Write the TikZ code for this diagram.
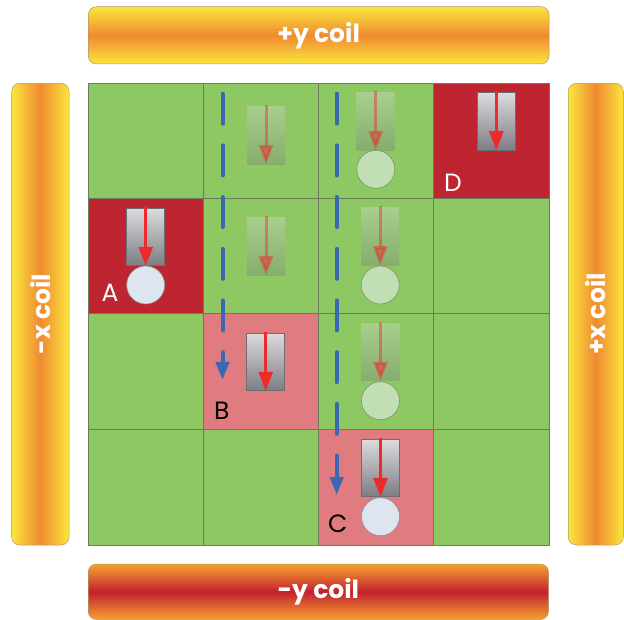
\documentclass[tikz,border=0pt]{standalone}
\usepackage{fontspec}
\newfontfamily\coilfont{Poppins}
\usetikzlibrary{arrows.meta}
\definecolor{grn}{HTML}{8DC862}
\definecolor{dred}{HTML}{BE2530}
\definecolor{pnk}{HTML}{E07C80}
\definecolor{gridc}{HTML}{6A7C5E}
\definecolor{mgtop}{HTML}{DCDCDE}
\definecolor{mgbot}{HTML}{7C7C84}
\definecolor{mgedge}{HTML}{6E6E72}
\definecolor{redarr}{HTML}{EE2A2A}
\definecolor{ballc}{HTML}{DDE5EE}
\definecolor{balledge}{HTML}{8A9098}
\definecolor{gballc}{HTML}{C2DEB4}
\definecolor{gballedge}{HTML}{76966A}
\definecolor{bluec}{HTML}{3A68B2}
\definecolor{cyel}{HTML}{FBE63C}
\definecolor{corg}{HTML}{F08A32}
\definecolor{dorg}{HTML}{F6A22E}
\definecolor{dcred}{HTML}{C2212F}
\definecolor{coiledge}{HTML}{B09A70}
\tikzset{
  gridline/.style={draw=gridc, line width=0.8pt},
  magbox/.style={top color=mgtop, bottom color=mgbot, draw=mgedge, line width=0.7pt},
  ghostbox/.style={top color=mgtop, bottom color=mgbot, opacity=0.35},
  redarrow/.style={draw=redarr, line width=3pt, -{Triangle[width=14pt,length=19pt]}},
  ghostarrow/.style={redarrow, opacity=0.45},
  ball/.style={fill=ballc, draw=balledge, line width=0.6pt},
  ghostball/.style={fill=gballc, draw=gballedge, line width=0.6pt},
  bluedash/.style={draw=bluec, line width=4pt, line cap=round, dash pattern=on 30pt off 21.7pt, -{Triangle[width=13pt,length=18pt,fill=bluec]}},
  coilh/.style={rounded corners=8pt, draw=coiledge, line width=0.5pt, top color=cyel, bottom color=cyel, middle color=corg},
  coilv/.style={rounded corners=8pt, draw=coiledge, line width=0.5pt, left color=cyel, right color=cyel, middle color=corg},
  coilm/.style={rounded corners=8pt, draw=coiledge, line width=0.5pt, top color=dorg, bottom color=dorg, middle color=dcred},
  coiltext/.style={text=white, font=\coilfont\bfseries\fontsize{25}{25}\selectfont, inner sep=0pt},
  cellabel/.style={font=\coilfont\fontsize{25}{25}\selectfont, inner sep=0pt, anchor=base west}
}
\newcommand\magnetat[2]{%
  \shade[magbox] (#1,#2) rectangle ++(38,57.5);
  \draw[redarrow] (#1+19,#2-1.5) -- (#1+19,#2+57.5);}
\newcommand\ghostat[2]{%
  \shade[ghostbox] (#1,#2) rectangle ++(38,57.5);
  \draw[ghostarrow] (#1+19,#2-1.5) -- (#1+19,#2+57.5);}
\begin{document}
\begin{tikzpicture}[x=1pt,y=-1pt]
\useasboundingbox (0,0) rectangle (624,620);
% coils
\shade[coilh] (88.3,6.7) rectangle (549,64);
\node[coiltext] (yplus) at (318.6,35.5) {+y coil};
\shade[coilm] (88.3,564) rectangle (548.5,619.5);
\node[coiltext] (yminus) at (318.4,592) {-y coil};
\shade[coilv] (11.7,83.3) rectangle (69,545);
\node[coiltext, rotate=90] (xminus) at (40.4,314) {-x coil};
\shade[coilv] (568.3,83.3) rectangle (623.3,545);
\node[coiltext, rotate=90] (xplus) at (595.8,314) {+x coil};
% grid cells
\fill[grn] (88.3,83.3) rectangle (549,545);
\fill[dred] (433.5,83.3) rectangle (549,198.3);
\fill[dred] (88.3,198.3) rectangle (203.7,313.5);
\fill[pnk] (203.7,313.5) rectangle (318.3,429);
\fill[pnk] (318.3,429) rectangle (433.5,545);
\draw[gridline] (88.3,83.3) rectangle (549,545);
\foreach \xx in {203.7,318.3,433.5} \draw[gridline] (\xx,83.3) -- (\xx,545);
\foreach \yy in {198.3,313.5,429} \draw[gridline] (88.3,\yy) -- (549,\yy);
% ghost magnets and balls
\ghostat{247}{106.7}
\ghostat{247}{217.7}
\ghostat{356.7}{92.7}
\draw[ghostball] (375.8,169.3) circle[radius=19];
\ghostat{361.2}{207.7}
\draw[ghostball] (380.2,285) circle[radius=19];
\ghostat{361.5}{323.3}
\draw[ghostball] (380.5,400.7) circle[radius=19];
% real magnets
\magnetat{477.3}{92.7}
\magnetat{126.7}{208.3}
\draw[ball] (145.7,285) circle[radius=19];
\magnetat{246.7}{333.3}
\magnetat{361.5}{439.3}
\draw[ball] (380.5,516.7) circle[radius=19];
% blue dashed paths
\coordinate (b1s) at (222.5,93.7);
\coordinate (b1e) at (222.5,380);
\draw[bluedash] (b1s) -- (b1e);
\coordinate (b2s) at (336.7,93.7);
\coordinate (b2e) at (336.7,495);
\draw[bluedash] (b2s) -- (b2e);
% labels
\node[cellabel, text=white] (la) at (101.5,301.7) {A};
\node[cellabel, text=black] (lb) at (214,419.3) {B};
\node[cellabel, text=black] (lc) at (328,532.7) {C};
\node[cellabel, text=white] (ld) at (444,191.7) {D};
\end{tikzpicture}
\end{document}
